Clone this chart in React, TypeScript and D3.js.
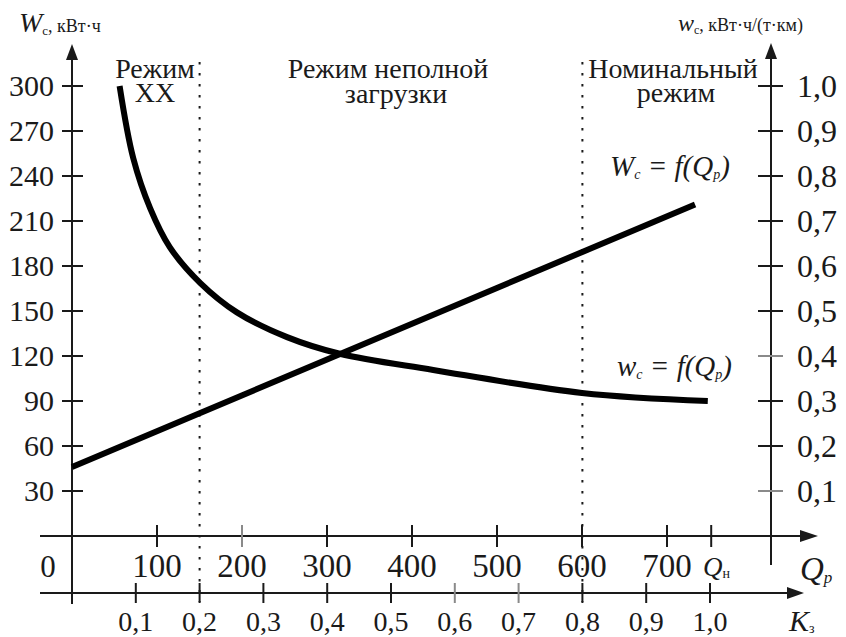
import React from "react";
import * as d3 from "d3";

// ---- data ----
const qTicks = [100, 200, 300, 400, 500, 600, 700];
const qNominal = 752;
const leftTicks = [30, 60, 90, 120, 150, 180, 210, 240, 270, 300];
const rightTicks = [0.1, 0.2, 0.3, 0.4, 0.5, 0.6, 0.7, 0.8, 0.9, 1.0];
const kTicks = [0.1, 0.2, 0.3, 0.4, 0.5, 0.6, 0.7, 0.8, 0.9, 1.0];
const modeBoundsK = [0.2, 0.8];

// W_c = f(Q_p), kWh (left axis)
const WcQ = [0, 733];
const WcVal = [46, 221];

// w_c = f(Q_p), kWh/(t·km) (right axis)
const wcQ = [56, 72, 92, 115, 151, 194, 253, 315, 425, 600, 748];
const wcVal = [1.0, 0.84, 0.728, 0.642, 0.562, 0.497, 0.442, 0.405, 0.369, 0.318, 0.3];

const fadedQ = [200];
const fadedK = [0.6, 0.7];
const fadedR = [0.1, 0.4];

const FONT = "Liberation Serif";
const INK = "#1a1a1a";

type TProps = React.SVGProps<SVGTextElement> & { children?: React.ReactNode };
function T(props: TProps) {
  return <text className="serif" fontFamily={FONT} fill={INK} {...props} />;
}

export default function App() {
  const W = 846;
  const H = 637;
  const x = d3.scaleLinear().domain([0, 800]).range([72, 752]);
  const xK = d3.scaleLinear().domain([0, 1]).range([72, 710]);
  const yL = d3.scaleLinear().domain([0, 300]).range([536, 86]);
  const yR = d3.scaleLinear().domain([0, 1]).range([536, 86]);

  const axisX0 = x(0);
  const axisXR = 771;
  const yQ = yL(0);
  const yK = 593;

  const lineW = d3
    .line<number>()
    .x((_, i) => x(WcQ[i]))
    .y((d) => yL(d));
  const linew = d3
    .line<number>()
    .x((_, i) => x(wcQ[i]))
    .y((d) => yR(d))
    .curve(d3.curveCatmullRom.alpha(0.5));

  const grey = "#8a8a8a";
  const fmt = (v: number) => v.toFixed(1).replace(".", ",");

  return (
    <svg width={W} height={H} style={{ position: "absolute", left: 0, top: 0, background: "#fff" }}>
      <style>{`text.serif, text.serif tspan { font-family: "Liberation Serif", "Times New Roman", Tinos, serif; }`}</style>
      <rect width={W} height={H} fill="#fff" />

      {/* mode boundaries */}
      {modeBoundsK.map((k) => (
        <line
          key={k}
          x1={xK(k)}
          x2={xK(k)}
          y1={62}
          y2={602}
          stroke={INK}
          strokeWidth={2}
          strokeDasharray="2.5 8.5"
        />
      ))}

      {/* left vertical axis */}
      <line x1={axisX0} x2={axisX0} y1={58} y2={604} stroke={INK} strokeWidth={2} />
      <path d={`M${axisX0},44 L${axisX0 - 6},60 L${axisX0 + 6},60 Z`} fill={INK} />
      {leftTicks.map((v) => (
        <g key={v}>
          <line x1={axisX0 - 10} x2={axisX0 + 11} y1={yL(v)} y2={yL(v)} stroke={INK} strokeWidth={2} />
          <T x={54} y={yL(v) + 10} textAnchor="end" fontSize={30}>
            {v}
          </T>
        </g>
      ))}

      {/* right vertical axis */}
      <line x1={axisXR} x2={axisXR} y1={58} y2={565} stroke={INK} strokeWidth={2} />
      <path d={`M${axisXR},43 L${axisXR - 6},59 L${axisXR + 6},59 Z`} fill={INK} />
      {rightTicks.map((v) => (
        <g key={v}>
          <line
            x1={axisXR - 13}
            x2={axisXR + 12}
            y1={yR(v)}
            y2={yR(v)}
            stroke={fadedR.includes(v) ? grey : INK}
            strokeWidth={2}
          />
          <T x={797} y={yR(v) + 11} textAnchor="start" fontSize={32}>
            {fmt(v)}
          </T>
        </g>
      ))}

      {/* Q axis */}
      <line x1={40} x2={802} y1={yQ} y2={yQ} stroke={INK} strokeWidth={2} />
      <path d={`M818,${yQ} L800,${yQ - 6} L800,${yQ + 6} Z`} fill={INK} />
      {qTicks.map((v) => (
        <g key={v}>
          <line
            x1={x(v)}
            x2={x(v)}
            y1={yQ - 11}
            y2={yQ + 11}
            stroke={fadedQ.includes(v) ? grey : INK}
            strokeWidth={2}
          />
          <T x={x(v)} y={577} textAnchor="middle" fontSize={33}>
            {v}
          </T>
        </g>
      ))}
      <line x1={x(qNominal)} x2={x(qNominal)} y1={yQ - 11} y2={yQ + 11} stroke={INK} strokeWidth={2} />
      <T x={48} y={577} textAnchor="middle" fontSize={31}>
        0
      </T>
      <T x={703} y={576} fontSize={27}>
        <tspan fontStyle="italic">Q</tspan>
        <tspan fontSize={14} dy={2}>н</tspan>
      </T>
      <T x={800} y={580} fontSize={33}>
        <tspan fontStyle="italic">Q</tspan>
        <tspan fontSize={17} dy={3} fontStyle="italic">р</tspan>
      </T>

      {/* K axis */}
      <line x1={40} x2={790} y1={yK} y2={yK} stroke={INK} strokeWidth={2} />
      <path d={`M804,${yK} L787,${yK - 6} L787,${yK + 6} Z`} fill={INK} />
      {kTicks.map((v) => (
        <g key={v}>
          <line
            x1={xK(v)}
            x2={xK(v)}
            y1={yK - 10}
            y2={yK + 10}
            stroke={fadedK.includes(v) ? grey : INK}
            strokeWidth={2}
          />
          <T x={xK(v)} y={631} textAnchor="middle" fontSize={28}>
            {fmt(v)}
          </T>
        </g>
      ))}
      <T x={789} y={631} fontSize={30}>
        <tspan fontStyle="italic">K</tspan>
        <tspan fontSize={14} dy={2}>з</tspan>
      </T>

      {/* curves */}
      <path d={lineW(WcVal) || ""} fill="none" stroke="#000" strokeWidth={6} />
      <path d={linew(wcVal) || ""} fill="none" stroke="#000" strokeWidth={6} />

      {/* mode labels */}
      <T fontSize={28} textAnchor="middle" x={155} y={78}>Режим</T>
      <T fontSize={28} textAnchor="middle" x={155} y={102}>XX</T>
      <T fontSize={28} textAnchor="middle" x={388} y={78}>Режим неполной</T>
      <T fontSize={28} textAnchor="middle" x={396} y={103}>загрузки</T>
      <T fontSize={28} textAnchor="middle" x={673} y={78}>Номинальный</T>
      <T fontSize={28} textAnchor="middle" x={676} y={102}>режим</T>

      {/* curve labels */}
      <T x={610} y={176} fontSize={29} fontStyle="italic">
        <tspan>W</tspan>
        <tspan fontSize={14} dy={3}>с</tspan>
        <tspan dy={-3}> = f(Q</tspan>
        <tspan fontSize={14} dy={3}>р</tspan>
        <tspan dy={-3}>)</tspan>
      </T>
      <T x={617} y={376} fontSize={29} fontStyle="italic">
        <tspan>w</tspan>
        <tspan fontSize={14} dy={3}>с</tspan>
        <tspan dy={-3}> = f(Q</tspan>
        <tspan fontSize={14} dy={3}>р</tspan>
        <tspan dy={-3}>)</tspan>
      </T>

      {/* axis titles */}
      <T x={19} y={32}>
        <tspan fontSize={28} fontStyle="italic">W</tspan>
        <tspan fontSize={13} dy={3}>с</tspan>
        <tspan fontSize={18} dy={-3}>, кВт·ч</tspan>
      </T>
      <T x={678} y={31}>
        <tspan fontSize={24} fontStyle="italic">w</tspan>
        <tspan fontSize={12} dy={3}>с</tspan>
        <tspan fontSize={18} dy={-3}>, кВт·ч/(т·км)</tspan>
      </T>
    </svg>
  );
}
